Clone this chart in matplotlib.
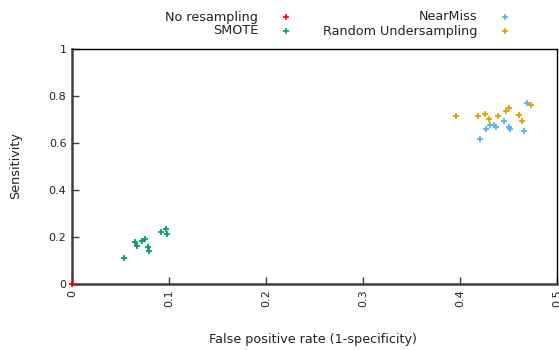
import matplotlib
matplotlib.use("Agg")
import matplotlib.pyplot as plt

# false positive rate / sensitivity per method
no_res_fpr = [0.0]
no_res_sens = [0.0]

smote_fpr = [0.054, 0.065, 0.067, 0.072, 0.075, 0.078, 0.079, 0.092, 0.097, 0.098]
smote_sens = [0.112, 0.177, 0.163, 0.182, 0.193, 0.159, 0.140, 0.220, 0.233, 0.211]

nearmiss_fpr = [0.421, 0.427, 0.431, 0.435, 0.437, 0.445, 0.451, 0.452, 0.466, 0.469]
nearmiss_sens = [0.617, 0.660, 0.678, 0.677, 0.669, 0.692, 0.669, 0.660, 0.650, 0.769]

rus_fpr = [0.396, 0.419, 0.426, 0.430, 0.439, 0.447, 0.451, 0.461, 0.464, 0.473]
rus_sens = [0.715, 0.715, 0.722, 0.701, 0.715, 0.738, 0.750, 0.720, 0.692, 0.762]

xticks = [0, 0.1, 0.2, 0.3, 0.4, 0.5]
xticklabels = ["0", "0.1", "0.2", "0.3", "0.4", "0.5"]
yticks = [0, 0.2, 0.4, 0.6, 0.8, 1]
yticklabels = ["0", "0.2", "0.4", "0.6", "0.8", "1"]

plt.rcParams['font.family'] = ['DejaVu Sans']
plt.rcParams['font.size'] = 8

fig = plt.figure(figsize=(5.59, 3.5), dpi=100)
ax = fig.add_axes([72 / 559, 66 / 350, 485 / 559, 235 / 350])

mk = dict(marker='+', s=20, linewidths=1.3, clip_on=False, zorder=3)
h1 = ax.scatter(no_res_fpr, no_res_sens, color='#ff0000', **mk)
h2 = ax.scatter(smote_fpr, smote_sens, color='#009e73', **mk)
h3 = ax.scatter(nearmiss_fpr, nearmiss_sens, color='#56b4e9', **mk)
h4 = ax.scatter(rus_fpr, rus_sens, color='#e69f00', **mk)

ax.set_xlim(0, 0.5)
ax.set_ylim(0, 1)
ax.set_xticks(xticks)
ax.set_xticklabels(xticklabels, rotation=90, va='top', ha='center')
ax.set_yticks(yticks)
ax.set_yticklabels(yticklabels)
ax.tick_params(direction='in', length=5, width=1, color='#404040',
               labelcolor='#222222', pad=4)

ax.spines['left'].set_linewidth(1.8)
ax.spines['left'].set_color('#404040')
ax.spines['bottom'].set_linewidth(1.8)
ax.spines['bottom'].set_color('#404040')
ax.spines['top'].set_linewidth(1)
ax.spines['right'].set_linewidth(1)

fig.text(16 / 559, 1 - 166 / 350, "Sensitivity", rotation=90,
         ha='center', va='center', fontsize=9.2, color='#222222')
fig.text(313 / 559, 1 - 339 / 350, "False positive rate (1-specificity)",
         ha='center', va='center', fontsize=9.2, color='#222222')

# gnuplot-style key: text right-aligned, sample to the right
rows = [(h1, "No resampling", 258, 286, 17), (h2, "SMOTE", 258, 286, 31),
        (h3, "NearMiss", 477, 505, 17), (h4, "Random Undersampling", 477, 505, 31)]
for h, label, tx, mx, ty in rows:
    fig.text(tx / 559, 1 - ty / 350, label, ha='right', va='center',
             fontsize=9.2, color='#222222')
    fig.lines.append(plt.Line2D([mx / 559], [1 - ty / 350], marker='+',
                                markersize=4.5, markeredgewidth=1.2,
                                color=h.get_facecolor()[0], linestyle='none',
                                transform=fig.transFigure, figure=fig))

fig.savefig("out.png", dpi=100)
